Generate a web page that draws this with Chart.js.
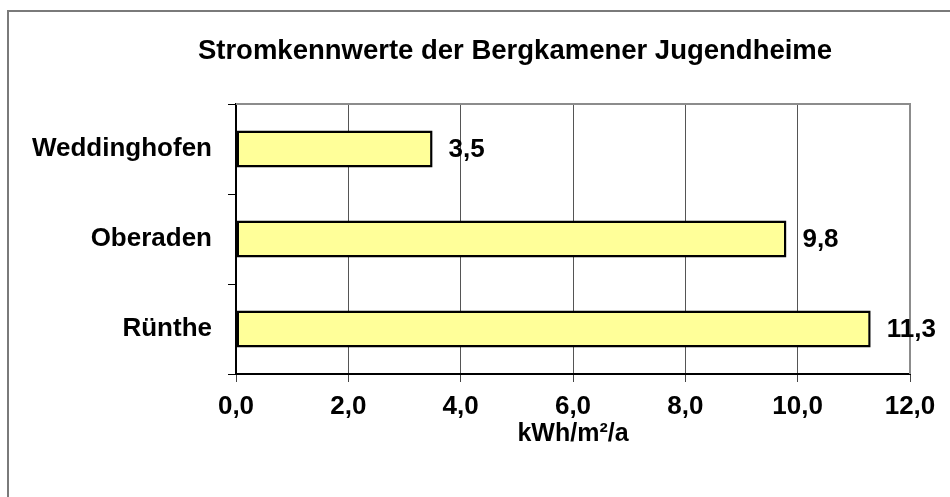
<!DOCTYPE html>
<html>
<head>
<meta charset="utf-8">
<script src="https://cdn.jsdelivr.net/npm/chart.js@4/dist/chart.umd.min.js"></script>
<style>
html,body{margin:0;padding:0;background:#fff;}
canvas{display:block;}
</style>
</head>
<body>
<canvas id="c" width="950" height="497"></canvas>
<script>
const chartTitle = 'Stromkennwerte der Bergkamener Jugendheime';
const categories = ['Weddinghofen', 'Oberaden', 'Rünthe'];
const values = [3.5, 9.8, 11.3];
const xTicks = [0, 2, 4, 6, 8, 10, 12];
const axisTitle = 'kWh/m²/a';

const FONT = '"Liberation Sans", Arial, Helvetica, sans-serif';
const fmt = v => v.toFixed(1).replace('.', ',');

const decor = {
  id: 'decor',
  beforeDraw(chart) {
    const ctx = chart.ctx;
    ctx.save();
    ctx.fillStyle = '#fff';
    ctx.fillRect(0, 0, chart.width, chart.height);
    // outer frame
    ctx.strokeStyle = '#7a7a7a';
    ctx.lineWidth = 2;
    ctx.beginPath();
    ctx.moveTo(8, chart.height + 5);
    ctx.lineTo(8, 11);
    ctx.lineTo(chart.width + 5, 11);
    ctx.stroke();
    // title
    ctx.fillStyle = '#000';
    ctx.font = 'bold 27.5px ' + FONT;
    ctx.textAlign = 'center';
    ctx.textBaseline = 'middle';
    ctx.fillText(chartTitle, 515, 51);
    ctx.restore();
  },
  afterDatasetsDraw(chart) {
    const ctx = chart.ctx;
    const a = chart.chartArea;
    ctx.save();
    // top and right plot border
    ctx.strokeStyle = '#8c8c8c';
    ctx.lineWidth = 2;
    ctx.beginPath();
    ctx.moveTo(a.left, a.top);
    ctx.lineTo(a.right, a.top);
    ctx.lineTo(a.right, a.bottom);
    ctx.stroke();
    // value labels
    ctx.fillStyle = '#000';
    ctx.font = 'bold 26px ' + FONT;
    ctx.textAlign = 'left';
    ctx.textBaseline = 'middle';
    chart.getDatasetMeta(0).data.forEach((bar, i) => {
      ctx.fillText(fmt(values[i]), bar.x + 16, bar.y + 1);
    });
    ctx.restore();
  }
};

new Chart(document.getElementById('c'), {
  type: 'bar',
  data: {
    labels: categories,
    datasets: [{
      data: values,
      backgroundColor: '#FFFF99',
      borderColor: '#000',
      borderWidth: 2.5,
      borderSkipped: false,
      barPercentage: 0.41,
      categoryPercentage: 1.0
    }]
  },
  options: {
    indexAxis: 'y',
    responsive: false,
    animation: false,
    devicePixelRatio: 1,
    layout: { padding: { top: 104, left: 0, right: 40, bottom: 0 } },
    plugins: { legend: { display: false }, title: { display: false }, tooltip: { enabled: false } },
    scales: {
      x: {
        min: 0, max: 12,
        afterBuildTicks(scale) { scale.ticks = xTicks.map(v => ({ value: v })); },
        afterFit(scale) { scale.height = 497 - 374; },
        ticks: {
          callback: v => fmt(v),
          color: '#000',
          font: { family: FONT, size: 26, weight: 'bold' },
          padding: 9,
          maxRotation: 0
        },
        grid: { color: '#555', lineWidth: 1, tickLength: 8, tickColor: '#444', tickWidth: 1 },
        border: { color: '#000', width: 2 },
        title: {
          display: true, text: axisTitle, color: '#000',
          font: { family: FONT, size: 25, weight: 'bold' },
          padding: { top: 0, bottom: 48 }
        }
      },
      y: {
        afterFit(scale) { scale.width = 236; },
        ticks: {
          color: '#000',
          font: { family: FONT, size: 26, weight: 'bold' },
          padding: 16
        },
        grid: { drawOnChartArea: false, drawTicks: true, tickLength: 8, tickColor: '#000', tickWidth: 1, offset: true },
        border: { color: '#000', width: 2 }
      }
    }
  },
  plugins: [decor]
});
</script>
</body>
</html>
